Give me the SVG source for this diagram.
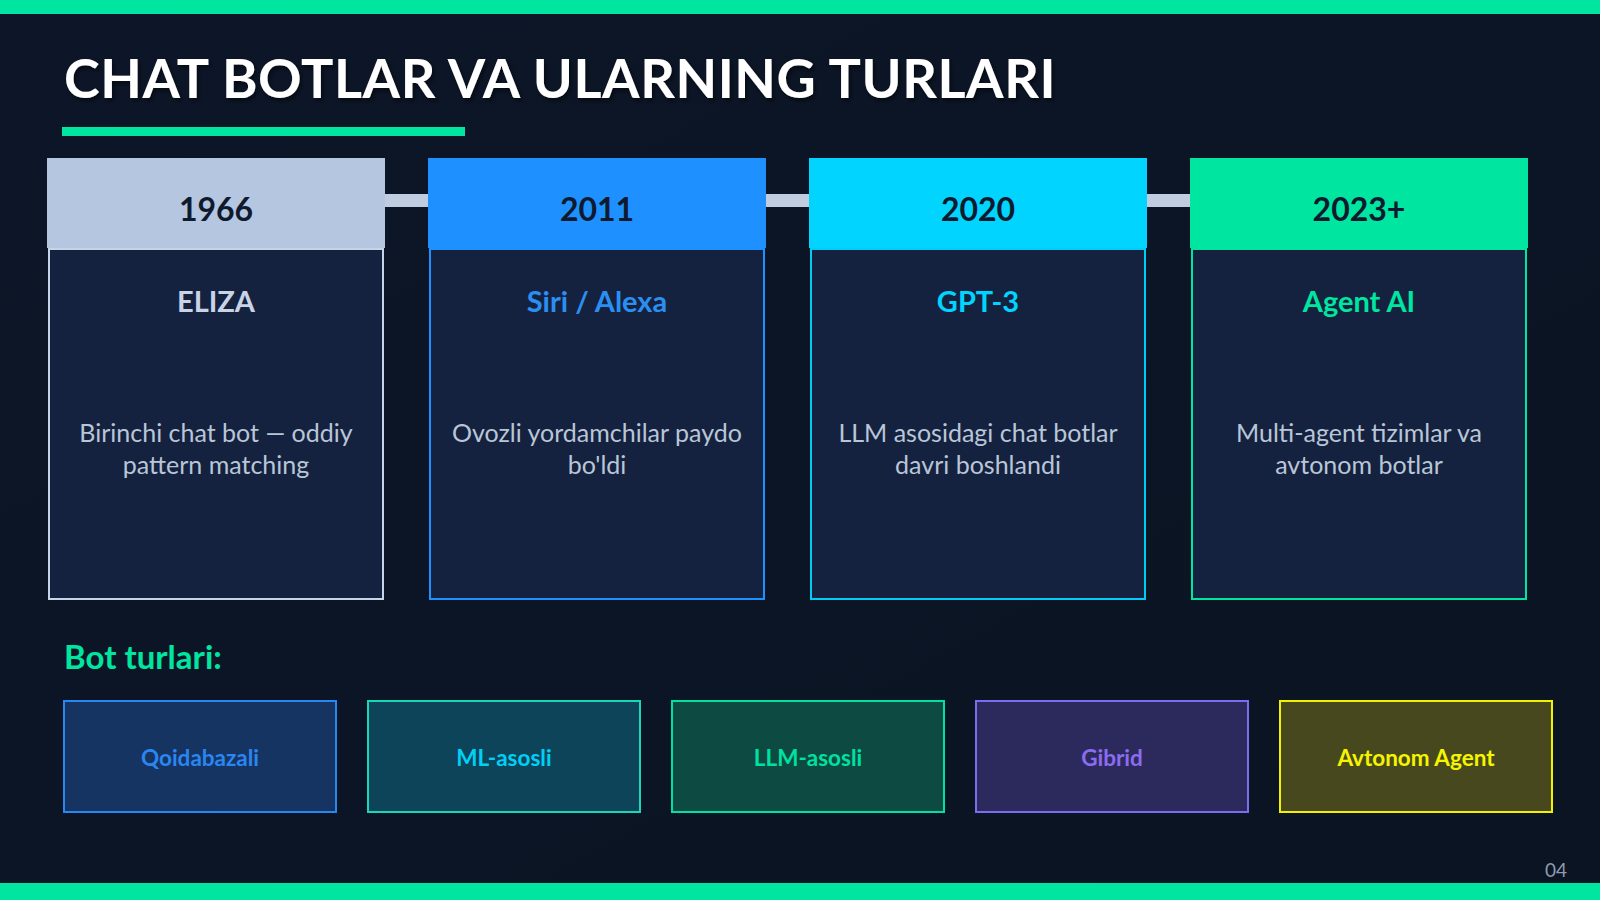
<svg xmlns="http://www.w3.org/2000/svg" width="1600" height="900" viewBox="0 0 1600 900">
<defs>
<linearGradient id="bg" x1="0" y1="0" x2="1" y2="1">
<stop offset="0" stop-color="#0d1628"/>
<stop offset="1" stop-color="#0a1422"/>
</linearGradient>
<filter id="sh" x="-5%" y="-20%" width="110%" height="140%">
<feDropShadow dx="2" dy="3" stdDeviation="2" flood-color="#000" flood-opacity="0.5"/>
</filter>
</defs>
<style>
.t{font-family:Lato,"Liberation Sans",sans-serif}
.title{font-size:54px;font-weight:700;fill:#ffffff;letter-spacing:0.6px}
.year{font-size:32px;font-weight:700;fill:#101a2e;text-anchor:middle}
.name{font-size:29px;font-weight:700;text-anchor:middle}
.desc{font-size:25px;fill:#b9c6d8;text-anchor:middle}
.body{fill:#15223f;stroke-width:2}
.bt{font-size:22.5px;font-weight:700;text-anchor:middle}
.bx{stroke-width:2}
</style>
<rect width="1600" height="900" fill="url(#bg)"/>
<rect x="0" y="0" width="1600" height="14" fill="#00e5a0"/>
<rect x="0" y="883" width="1600" height="17" fill="#00e5a0"/>
<text class="t title" x="64" y="98" filter="url(#sh)">CHAT BOTLAR VA ULARNING TURLARI</text>
<rect x="62" y="127" width="403" height="9" fill="#00e5a0"/>

<g id="connectors">
<rect x="216" y="194" width="1143" height="13" fill="#c0cde0"/>
</g>

<g id="card-1966">
<rect x="47" y="158" width="338" height="90" fill="#b4c6e0"/>
<rect class="body" x="49" y="249" width="334" height="350" stroke="#c8d4e6"/>
<text class="t year" x="216" y="221">1966</text>
<text class="t name" x="216" y="312" fill="#c8d4e6">ELIZA</text>
<text class="t desc" x="216" y="442">Birinchi chat bot — oddiy</text>
<text class="t desc" x="216" y="474">pattern matching</text>
</g>

<g id="card-2011">
<rect x="428" y="158" width="338" height="90" fill="#1e90ff"/>
<rect class="body" x="430" y="249" width="334" height="350" stroke="#1e90ff"/>
<text class="t year" x="597" y="221">2011</text>
<text class="t name" x="597" y="312" fill="#2b8ff2">Siri / Alexa</text>
<text class="t desc" x="597" y="442">Ovozli yordamchilar paydo</text>
<text class="t desc" x="597" y="474">bo'ldi</text>
</g>

<g id="card-2020">
<rect x="809" y="158" width="338" height="90" fill="#00d4ff"/>
<rect class="body" x="811" y="249" width="334" height="350" stroke="#00cdf5"/>
<text class="t year" x="978" y="221">2020</text>
<text class="t name" x="978" y="312" fill="#00d4ff">GPT-3</text>
<text class="t desc" x="978" y="442">LLM asosidagi chat botlar</text>
<text class="t desc" x="978" y="474">davri boshlandi</text>
</g>

<g id="card-2023">
<rect x="1190" y="158" width="338" height="90" fill="#00e5a0"/>
<rect class="body" x="1192" y="249" width="334" height="350" stroke="#00e5a0"/>
<text class="t year" x="1359" y="221">2023+</text>
<text class="t name" x="1359" y="312" fill="#00e5a0">Agent AI</text>
<text class="t desc" x="1359" y="442">Multi-agent tizimlar va</text>
<text class="t desc" x="1359" y="474">avtonom botlar</text>
</g>

<text class="t" x="64" y="669" font-size="33" font-weight="700" fill="#00e5a0">Bot turlari:</text>

<g id="type-qoidabazali">
<rect class="bx" x="64" y="701" width="272" height="111" fill="#163462" stroke="#2a86f0"/>
<text class="t bt" x="200" y="766" fill="#2a86f0">Qoidabazali</text>
</g>
<g id="type-ml">
<rect class="bx" x="368" y="701" width="272" height="111" fill="#0d4459" stroke="#1ad6b4"/>
<text class="t bt" x="504" y="766" fill="#00d0f5">ML-asosli</text>
</g>
<g id="type-llm">
<rect class="bx" x="672" y="701" width="272" height="111" fill="#0c4a42" stroke="#00e0a0"/>
<text class="t bt" x="808" y="766" fill="#00e0a0">LLM-asosli</text>
</g>
<g id="type-gibrid">
<rect class="bx" x="976" y="701" width="272" height="111" fill="#2c2a5c" stroke="#7c6cf0"/>
<text class="t bt" x="1112" y="766" fill="#8b6cf0">Gibrid</text>
</g>
<g id="type-avtonom">
<rect class="bx" x="1280" y="701" width="272" height="111" fill="#48481e" stroke="#f2f200"/>
<text class="t bt" x="1416" y="766" fill="#f5f500">Avtonom Agent</text>
</g>

<text class="t" x="1567" y="877" font-size="19" fill="#8c9bb0" text-anchor="end">04</text>
</svg>
